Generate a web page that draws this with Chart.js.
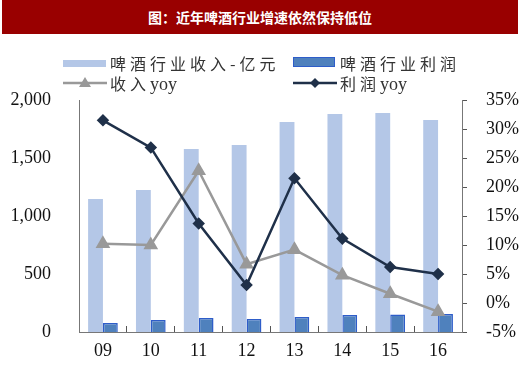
<!DOCTYPE html>
<html>
<head>
<meta charset="utf-8">
<script src="https://cdn.jsdelivr.net/npm/chart.js@4"></script>
<style>
  html, body { margin: 0; padding: 0; background: #fff; }
  #wrap { position: relative; width: 520px; height: 377px; overflow: hidden; }
  #banner {
    position: absolute; left: 2px; top: 0; width: 516px; height: 34px;
    background: #990000; color: #fff; text-align: center;
    font: bold 14px "Noto Sans CJK SC", sans-serif; line-height: 34px;
  }
  .lg { position: absolute; font: 16px "Noto Sans CJK SC", serif;
        color: #333; letter-spacing: 4px; line-height: 20px; white-space: nowrap; }
  .lg span { font: 18px "Liberation Serif", serif; letter-spacing: 0; }
  .sw { position: absolute; }
  canvas { position: absolute; left: 0; top: 0; }
</style>
</head>
<body>
<div id="wrap">
  <canvas id="c" width="520" height="377"></canvas>
  <div id="banner">图：近年啤酒行业增速依然保持低位</div>

  <div class="sw" style="left:63px;top:60px;width:43px;height:7px;background:#b4c7e7;"></div>
  <div class="lg" style="left:110px;top:53px;">啤酒行业收入-亿元</div>
  <div class="sw" style="left:293px;top:57px;width:40px;height:8px;background:#4f81bd;border:1.5px solid #2e5dc9;"></div>
  <div class="lg" style="left:340px;top:53px;">啤酒行业利润</div>

  <svg class="sw" style="left:63px;top:76px;" width="44" height="14">
    <line x1="0" y1="7" x2="44" y2="7" stroke="#999" stroke-width="2.5"/>
    <polygon points="22,1 28,11 16,11" fill="#999"/>
  </svg>
  <div class="lg" style="left:110px;top:73px;">收入<span>yoy</span></div>
  <svg class="sw" style="left:293px;top:76px;" width="44" height="14">
    <line x1="0" y1="7" x2="44" y2="7" stroke="#1f3049" stroke-width="2.5"/>
    <polygon points="22,2 27,7 22,12 17,7" fill="#1f3049"/>
  </svg>
  <div class="lg" style="left:340px;top:73px;">利润<span>yoy</span></div>
</div>
<script>
const years = ['09', '10', '11', '12', '13', '14', '15', '16'];
const revenue = [1147, 1224, 1578, 1612, 1810, 1879, 1888, 1828];
const profit = [78, 103, 121, 112, 129, 147, 150, 155];
const revenueYoy = [10.2, 10.0, 22.8, 6.7, 9.2, 4.8, 1.6, -1.5];
const profitYoy = [31.5, 26.8, 13.7, 3.1, 21.5, 11.1, 6.2, 5.0];

const tickFont = { family: 'Liberation Serif', size: 18 };

new Chart(document.getElementById('c'), {
  type: 'bar',
  data: {
    labels: years,
    datasets: [
      {
        type: 'line', label: '利润yoy', data: profitYoy, yAxisID: 'y1', order: 0,
        borderColor: '#1f3049', backgroundColor: '#1f3049', borderWidth: 2.5,
        pointStyle: 'rectRot', pointRadius: 4.5, tension: 0
      },
      {
        type: 'line', label: '收入yoy', data: revenueYoy, yAxisID: 'y1', order: 1,
        borderColor: '#999999', backgroundColor: '#999999', borderWidth: 2.5,
        pointStyle: 'triangle', pointRadius: 6, tension: 0
      },
      {
        label: '啤酒行业收入-亿元', data: revenue, yAxisID: 'y', order: 2,
        backgroundColor: '#b4c7e7', borderWidth: 0,
        categoryPercentage: 0.62, barPercentage: 1
      },
      {
        label: '啤酒行业利润', data: profit, yAxisID: 'y', order: 2,
        backgroundColor: '#4f81bd', borderColor: '#2e5dc9', borderWidth: 1.5,
        categoryPercentage: 0.62, barPercentage: 1
      }
    ]
  },
  options: {
    responsive: false,
    animation: false,
    layout: { padding: { top: 100 } },
    plugins: { legend: { display: false }, tooltip: { enabled: false } },
    scales: {
      x: {
        grid: { drawOnChartArea: false, drawTicks: true, tickLength: -6, color: '#555' },
        border: { color: '#777', width: 1 },
        ticks: { font: tickFont, color: '#111', padding: 14 },
        afterFit: (s) => { s.height = 45; }
      },
      y: {
        position: 'left', min: 0, max: 2000,
        grid: { display: false },
        border: { color: '#777', width: 1 },
        ticks: {
          stepSize: 500, font: tickFont, color: '#111', padding: 20,
          callback: (v) => v.toLocaleString('en-US')
        },
        afterFit: (s) => { s.width = 79; }
      },
      y1: {
        position: 'right', min: -5, max: 35,
        grid: { drawOnChartArea: false, tickLength: 5, color: '#555' },
        border: { color: '#777', width: 1 },
        ticks: {
          stepSize: 5, font: tickFont, color: '#111', padding: 19,
          callback: (v) => v + '%'
        },
        afterFit: (s) => { s.width = 58; }
      }
    }
  }
});
</script>
</body>
</html>
